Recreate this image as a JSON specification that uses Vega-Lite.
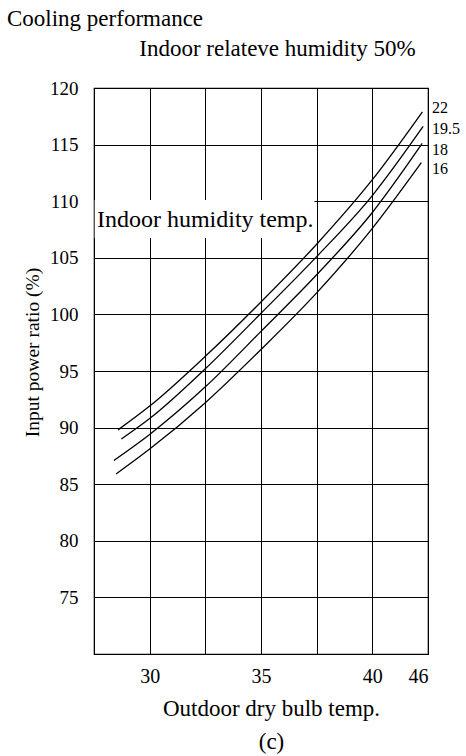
{
  "$schema": "https://vega.github.io/schema/vega-lite/v6.json",
  "autosize": {"type": "none"},
  "width": 334,
  "height": 566,
  "padding": {"left": 94, "top": 88, "right": 38, "bottom": 102},
  "background": "white",
  "config": {
    "font": "Liberation Serif",
    "view": {"stroke": "black", "strokeWidth": 1.2},
    "axis": {
      "gridColor": "black",
      "gridOpacity": 1,
      "gridWidth": 1,
      "labelColor": "black",
      "titleColor": "black",
      "labelFont": "Liberation Serif",
      "titleFont": "Liberation Serif",
      "titleFontWeight": "normal"
    }
  },
  "title": {
    "text": "Cooling performance",
    "anchor": "start",
    "frame": "group",
    "dx": -87,
    "offset": 6,
    "fontSize": 23,
    "fontWeight": "normal",
    "color": "black",
    "font": "Liberation Serif"
  },
  "datasets": {
    "curves": [
      {"series": "22", "t": 28.58, "ratio": 89.8},
      {"series": "22", "t": 30, "ratio": 91.9},
      {"series": "22", "t": 32.5, "ratio": 96.3},
      {"series": "22", "t": 35, "ratio": 101.1},
      {"series": "22", "t": 37.5, "ratio": 106.2},
      {"series": "22", "t": 40, "ratio": 111.9},
      {"series": "22", "t": 42.25, "ratio": 117.9},
      {"series": "19.5", "t": 28.73, "ratio": 89.0},
      {"series": "19.5", "t": 30, "ratio": 90.8},
      {"series": "19.5", "t": 32.5, "ratio": 95.2},
      {"series": "19.5", "t": 35, "ratio": 100.1},
      {"series": "19.5", "t": 37.5, "ratio": 105.1},
      {"series": "19.5", "t": 40, "ratio": 110.5},
      {"series": "19.5", "t": 42.28, "ratio": 116.6},
      {"series": "18", "t": 28.39, "ratio": 87.1},
      {"series": "18", "t": 30, "ratio": 89.4},
      {"series": "18", "t": 32.5, "ratio": 93.6},
      {"series": "18", "t": 35, "ratio": 98.5},
      {"series": "18", "t": 37.5, "ratio": 103.5},
      {"series": "18", "t": 40, "ratio": 109.0},
      {"series": "18", "t": 42.24, "ratio": 115.1},
      {"series": "16", "t": 28.49, "ratio": 85.9},
      {"series": "16", "t": 30, "ratio": 88.1},
      {"series": "16", "t": 32.5, "ratio": 92.2},
      {"series": "16", "t": 35, "ratio": 96.9},
      {"series": "16", "t": 37.5, "ratio": 101.9},
      {"series": "16", "t": 40, "ratio": 107.6},
      {"series": "16", "t": 42.2, "ratio": 113.4}
    ],
    "labels": [
      {"series": "22", "t": 42.5, "ratio": 118.23},
      {"series": "19.5", "t": 42.5, "ratio": 116.35},
      {"series": "18", "t": 42.5, "ratio": 114.5},
      {"series": "16", "t": 42.5, "ratio": 112.85}
    ],
    "box": [
      {"t": 27.53, "t2": 37.4, "ratio": 106.75, "ratio2": 110.1}
    ],
    "note": [
      {"t": 27.63, "ratio": 107.75, "text": "Indoor humidity temp."}
    ]
  },
  "layer": [
    {
      "data": {"name": "box"},
      "mark": {"type": "rect", "fill": "white", "stroke": null},
      "encoding": {
        "x": {
          "field": "t",
          "type": "quantitative",
          "scale": {"domain": [27.5, 42.5], "nice": false, "zero": false},
          "axis": {
            "orient": "top",
            "values": [27.5, 30, 32.5, 35, 37.5, 40, 42.5],
            "grid": true,
            "labels": false,
            "ticks": false,
            "domain": false,
            "title": "Indoor relateve humidity 50%",
            "titleFontSize": 23,
            "titleX": 183,
            "titleY": -33,
            "titleAlign": "center",
            "titleAnchor": null,
            "titleBaseline": "alphabetic"
          }
        },
        "x2": {"field": "t2"},
        "y": {
          "field": "ratio",
          "type": "quantitative",
          "scale": {"domain": [70, 120], "nice": false, "zero": false},
          "axis": {
            "orient": "left",
            "values": [70, 75, 80, 85, 90, 95, 100, 105, 110, 115, 120],
            "grid": true,
            "ticks": false,
            "domain": false,
            "labelFontSize": 19,
            "labelPadding": 16,
            "labelExpr": "datum.value == 70 ? '' : datum.label",
            "title": "Input power ratio (%)",
            "titleFontSize": 19.5,
            "titleAngle": -90,
            "titleX": -62,
            "titleY": 264,
            "titleAlign": "center",
            "titleBaseline": "middle"
          }
        },
        "y2": {"field": "ratio2"}
      }
    },
    {
      "data": {"name": "curves"},
      "mark": {"type": "line", "color": "black", "strokeWidth": 1.3, "interpolate": "monotone"},
      "encoding": {
        "x": {
          "field": "t",
          "type": "quantitative",
          "axis": {
            "orient": "bottom",
            "values": [30, 35, 40, 42.5],
            "grid": false,
            "ticks": false,
            "domain": false,
            "labelFontSize": 20,
            "labelPadding": 12,
            "labelBaseline": "top",
            "labelExpr": "datum.value == 42.5 ? '46' : datum.label",
            "title": ["Outdoor dry bulb temp.", "(c)"],
            "titleFontSize": 23,
            "titleLineHeight": 33,
            "titleX": 177,
            "titleY": 61,
            "titleAlign": "center",
            "titleAnchor": null,
            "titleBaseline": "alphabetic"
          }
        },
        "y": {"field": "ratio", "type": "quantitative"},
        "detail": {"field": "series"}
      }
    },
    {
      "data": {"name": "labels"},
      "mark": {"type": "text", "align": "left", "baseline": "middle", "dx": 4, "fontSize": 16, "color": "black", "font": "Liberation Serif"},
      "encoding": {
        "x": {"field": "t", "type": "quantitative", "axis": null},
        "y": {"field": "ratio", "type": "quantitative"},
        "text": {"field": "series"}
      }
    },
    {
      "data": {"name": "note"},
      "mark": {"type": "text", "align": "left", "baseline": "alphabetic", "fontSize": 24, "color": "black", "font": "Liberation Serif"},
      "encoding": {
        "x": {"field": "t", "type": "quantitative", "axis": null},
        "y": {"field": "ratio", "type": "quantitative"},
        "text": {"field": "text"}
      }
    }
  ],
  "resolve": {"axis": {"x": "independent"}}
}
